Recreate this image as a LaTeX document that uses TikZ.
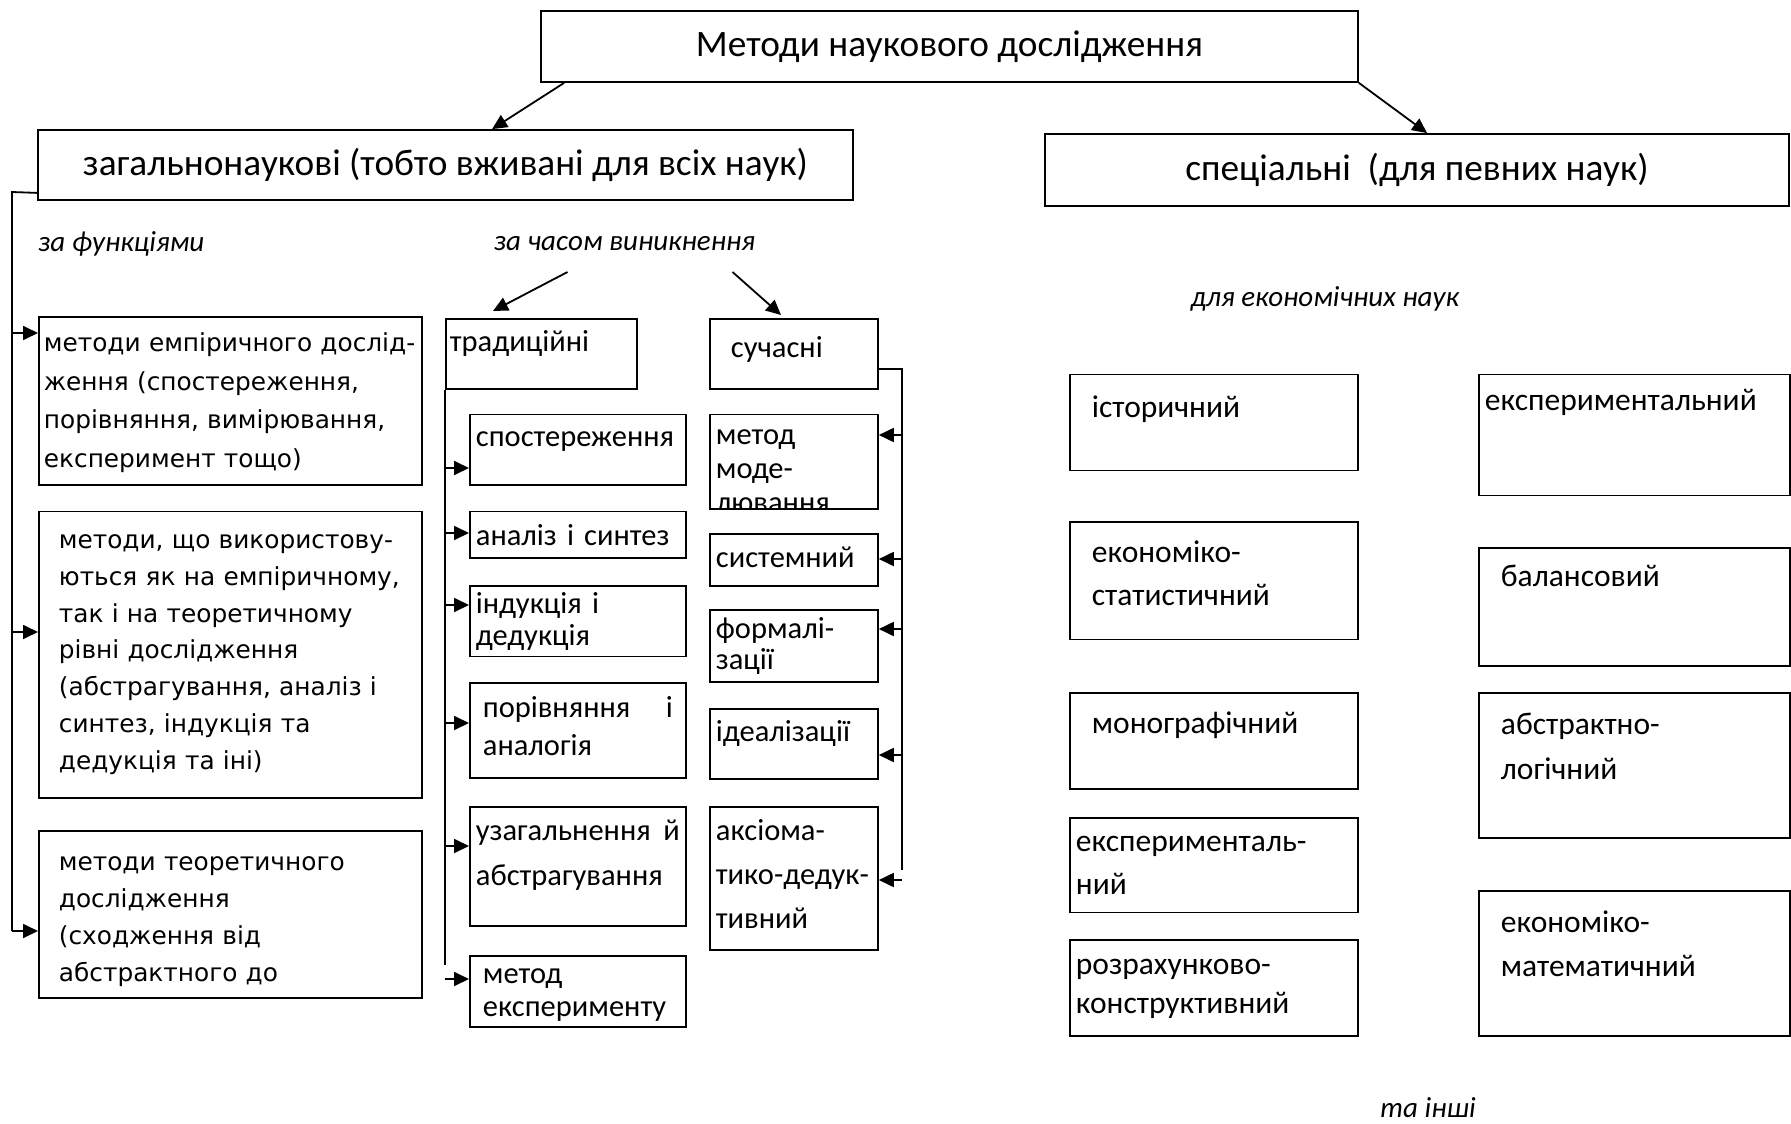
\documentclass[tikz,border=0pt]{standalone}
\usepackage{fontspec}
\setmainfont{Carlito}
\newfontfamily\dvsans{DejaVu Sans}
\usetikzlibrary{arrows.meta}
\tikzset{
  box/.style={draw, line width=1.8pt, anchor=north west, align=left, inner ysep=0pt},
  lft/.style={box, font=\dvsans\fontsize{24.8}{#1}\selectfont},
  mid/.style={box, font=\fontsize{30.5}{#1}\selectfont},
  rgt/.style={box, font=\fontsize{31.5}{#1}\selectfont},
  head/.style={draw, line width=1.8pt, inner sep=0pt, font=\fontsize{37.3}{44}\selectfont},
  note/.style={inner sep=0pt, font=\itshape\fontsize{29}{34}\selectfont},
  wire/.style={line width=1.8pt},
  arr/.style={wire, -{Triangle[length=15pt,width=14pt]}},
}
\begin{document}
\begin{tikzpicture}[x=1pt,y=-1pt]
  \useasboundingbox (0,0) rectangle (1791,1124);

  \node[head, minimum width=817pt, minimum height=71pt] (top) at (949.5,46.5) {Методи наукового дослідження};
  \node[head, minimum width=815pt, minimum height=70pt] (gen) at (445.5,165) {загальнонаукові (тобто вживані для всіх наук)};
  \node[head, minimum width=744pt, minimum height=72pt] (spec) at (1417,170) {спеціальні\ \ (для певних наук)};
  \draw[arr] ([xshift=24pt]top.south west) -- ([xshift=455pt]gen.north west);
  \draw[arr] (top.south east) -- ([xshift=383pt]spec.north west);

  \node[note, anchor=west] (fun) at (38,244) {за функціями};
  \node[note] (time) at (624.5,244) {за часом виникнення};
  \node[note] (econ) at (1325,299) {для економічних наук};
  \node[note] (etc) at (1428,1108) {та інші};

  % za funktsiiamy
  \node[lft=38.5, inner xsep=5pt, text width=373pt, text height=35pt, text depth=133pt] (emp) at (38,316)
    {методи емпіричного дослід-\\ження (спостереження,\\порівняння, вимірювання,\\експеримент тощо)};
  \node[lft=36.8, inner xsep=20pt, text width=343pt, text height=37pt, text depth=249.7pt] (both) at (38,510.6)
    {методи, що використову-\\ються як на емпіричному,\\так і на теоретичному\\рівні дослідження\\(абстрагування, аналіз і\\синтез, індукція та\\дедукція та іні)};
  \node[lft=36.7, inner xsep=20pt, text width=343pt, text height=40pt, text depth=127pt] (theo) at (38,830)
    {методи теоретичного\\дослідження\\(сходження від\\абстрактного до};
  \coordinate (ltop) at (12,192);
  \coordinate (lbot) at (12,931);
  \draw[wire] ([yshift=8pt]gen.south west) -- (ltop) -- (lbot);
  \foreach \n/\y in {emp/333, both/632, theo/931}
    \draw[arr] (ltop |- 0,\y) -- (\n.west |- 0,\y);

  % za chasom
  \node[mid=34, inner xsep=4pt, text width=183pt, text height=33pt, text depth=37pt] (trad) at (445,318) {традиційні};
  \node[mid=34, inner xsep=21pt, text width=126pt, text height=39pt, text depth=31pt] (mod) at (709,318) {сучасні};
  \draw[arr] ([xshift=-57pt,yshift=-28pt]time.center) -- ([xshift=48pt,yshift=7pt]trad.north west);
  \draw[arr] ([xshift=108pt,yshift=-28pt]time.center) -- ([xshift=72pt,yshift=3pt]mod.north west);

  \node[mid=34, inner xsep=6pt, text width=204pt, text height=32.5pt, text depth=38pt] (obs) at (469,413.5) {спостереження};
  \node[mid=34, inner xsep=6pt, text width=204pt, text height=34pt, text depth=12.8pt] (an) at (469,510.6) {аналіз і синтез};
  \node[mid=32, inner xsep=6pt, text width=204pt, text height=28pt, text depth=42.8pt] (ind) at (469,584.8) {індукція і\\дедукція};
  \node[mid=38, inner xsep=13pt, text width=190pt, text height=35pt, text depth=59.7pt] (cmp) at (469,682) {порівняння \hfill і\\аналогія};
  \node[mid=45, inner xsep=6pt, text width=204pt, text height=34pt, text depth=85pt] (gen2) at (469,806) {узагальнення \hfill й\\абстрагування};
  \node[mid=33, inner xsep=13pt, text width=190pt, text height=28pt, text depth=43pt] (exp) at (469,955) {метод\\експерименту};
  \draw[wire] (trad.south west) -- (trad.south west |- 0,965);
  \foreach \n/\y in {obs/468, an/533, ind/605, cmp/723, gen2/846, exp/979}
    \draw[arr] (trad.south west |- 0,\y) -- (\n.west |- 0,\y);

  \node[mid=34, inner xsep=6pt, text width=156pt, text height=30.5pt, text depth=64pt] (mdl) at (709,413.5) {};
  \begin{scope}
    \clip (mdl.south west) rectangle (mdl.north east);
    \node[mid=34, draw=none, inner xsep=6pt, text width=156pt, text height=30.5pt, text depth=64pt] (mdl-t) at (mdl.north west) {метод\\моде-\\лювання};
  \end{scope}
  \node[mid=34, inner xsep=6pt, text width=156pt, text height=34pt, text depth=18pt] (sys) at (709,533) {системний};
  \node[mid=31, inner xsep=6pt, text width=156pt, text height=29pt, text depth=43pt] (frm) at (709,609) {формалі-\\зації};
  \node[mid=34, inner xsep=6pt, text width=156pt, text height=33pt, text depth=37pt] (idl) at (709,708) {ідеалізації};
  \node[mid=44, inner xsep=6pt, text width=156pt, text height=34pt, text depth=109pt] (axm) at (709,806) {аксіома-\\\mbox{тико-дедук-}\\тивний};
  \coordinate (mtop) at (902,369);
  \coordinate (mbot) at (902,870);
  \draw[wire] (mod.east |- mtop) -- (mtop) -- (mbot);
  \foreach \n/\y in {mdl/435, sys/559, frm/629, idl/755, axm/880}
    \draw[arr] (mtop |- 0,\y) -- (\n.east |- 0,\y);

  % dlia ekonomichnykh nauk
  \node[rgt=43, inner xsep=22pt, text width=244pt, text height=43.5pt, text depth=52.5pt] (hist) at (1069,373.5) {історичний};
  \node[rgt=43, inner xsep=22pt, text width=244pt, text height=41pt, text depth=76.5pt] (estat) at (1069,521) {економіко-\\статистичний};
  \node[rgt=43, inner xsep=22pt, text width=244pt, text height=41pt, text depth=55pt] (mono) at (1069,692) {монографічний};
  \node[rgt=43, inner xsep=6pt, text width=276pt, text height=34pt, text depth=60.5pt] (expl) at (1069,817) {експерименталь-\\ний};
  \node[rgt=39, inner xsep=6pt, text width=276pt, text height=35pt, text depth=61pt] (calc) at (1069,939) {розрахунково-\\конструктивний};

  \node[rgt=43, inner xsep=6pt, text width=299pt, text height=36.5pt, text depth=84.5pt] (expr) at (1478,373.5) {експериментальний};
  \node[rgt=43, inner xsep=22pt, text width=267pt, text height=39pt, text depth=79pt] (bal) at (1478,547) {балансовий};
  \node[rgt=45, inner xsep=22pt, text width=267pt, text height=42pt, text depth=103pt] (abl) at (1478,692) {абстрактно-\\логічний};
  \node[rgt=44, inner xsep=22pt, text width=267pt, text height=42pt, text depth=103pt] (emat) at (1478,890) {економіко-\\математичний};
\end{tikzpicture}
\end{document}
